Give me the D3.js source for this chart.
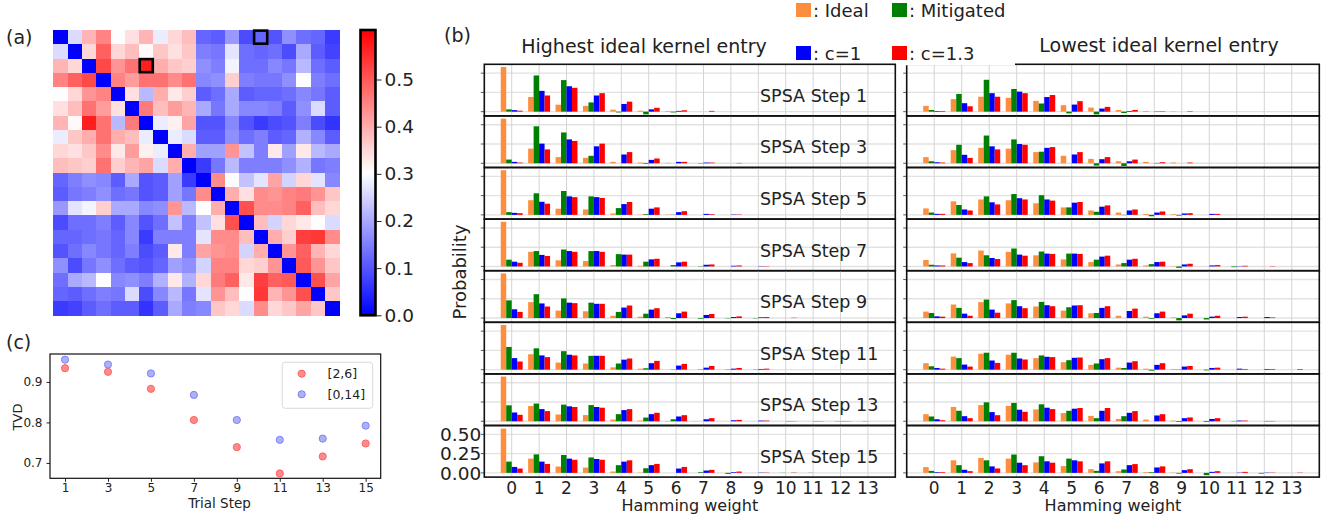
<!DOCTYPE html>
<html>
<head>
<meta charset="utf-8">
<script src="https://cdnjs.cloudflare.com/ajax/libs/d3/7.8.5/d3.min.js"></script>
<style>
body { margin: 0; background: #fff; }
svg { font-family: 'DejaVu Sans', sans-serif; }
</style>
</head>
<body>
<svg id="fig" width="1337" height="523"></svg>
<script>
// ---------- data ----------
// (a) kernel matrix, 20 x 20
var kernel = [
    [0, .26, .39, .45, .30, .34, .39, .28, .35, .38, .12, .11, .18, .09, .12, .10, .17, .13, .12, .07],
    [.26, 0, .35, .49, .35, .38, .31, .37, .34, .37, .15, .14, .27, .13, .12, .13, .09, .20, .11, .08],
    [.39, .35, 0, .52, .43, .47, .57, .40, .37, .36, .17, .15, .29, .13, .13, .16, .14, .22, .13, .11],
    [.45, .49, .52, 0, .45, .42, .47, .47, .44, .47, .16, .17, .36, .15, .14, .14, .17, .30, .15, .13],
    [.30, .35, .43, .45, 0, .34, .22, .40, .33, .36, .11, .13, .20, .11, .12, .12, .13, .16, .14, .11],
    [.34, .38, .47, .42, .34, 0, .46, .38, .42, .39, .20, .14, .20, .16, .16, .15, .11, .17, .26, .11],
    [.39, .31, .57, .47, .22, .46, 0, .28, .32, .41, .10, .10, .16, .10, .07, .09, .10, .15, .09, .06],
    [.28, .37, .40, .47, .40, .38, .28, 0, .28, .26, .11, .11, .17, .13, .15, .11, .12, .21, .16, .11],
    [.35, .34, .37, .44, .33, .42, .32, .28, 0, .40, .19, .19, .43, .23, .15, .33, .19, .33, .22, .20],
    [.38, .37, .36, .47, .36, .39, .41, .26, .40, 0, .07, .14, .22, .15, .15, .15, .17, .21, .14, .15],
    [.12, .15, .17, .16, .11, .20, .10, .11, .19, .07, 0, .44, .30, .23, .27, .41, .25, .35, .27, .16],
    [.11, .14, .15, .17, .13, .14, .10, .11, .19, .14, .44, 0, .40, .34, .44, .43, .45, .46, .43, .37],
    [.18, .27, .29, .36, .20, .20, .16, .17, .43, .22, .30, .40, 0, .51, .44, .44, .45, .49, .38, .35],
    [.09, .13, .13, .15, .11, .16, .10, .13, .23, .15, .23, .34, .51, 0, .38, .25, .35, .33, .30, .26],
    [.12, .12, .13, .14, .12, .16, .07, .15, .15, .15, .27, .44, .44, .38, 0, .40, .36, .53, .54, .44],
    [.10, .13, .16, .14, .12, .15, .09, .11, .33, .15, .41, .43, .44, .25, .40, 0, .43, .49, .39, .35],
    [.17, .09, .14, .17, .13, .11, .10, .12, .19, .17, .25, .45, .45, .35, .36, .43, 0, .50, .43, .37],
    [.13, .20, .22, .30, .16, .17, .15, .21, .33, .21, .35, .46, .49, .33, .53, .49, .50, 0, .51, .41],
    [.12, .11, .13, .15, .14, .26, .09, .16, .22, .14, .27, .43, .38, .30, .54, .39, .43, .51, 0, .37],
    [.07, .08, .11, .13, .11, .11, .06, .11, .20, .15, .16, .37, .35, .26, .44, .35, .37, .41, .37, 0]
];
var highlighted = [[0, 14], [2, 6]];   // [row, col]
var colorbarTicks = [0, 0.1, 0.2, 0.3, 0.4, 0.5];

// (b) probability per Hamming weight
var steps = [1, 3, 5, 7, 9, 11, 13, 15];
var hammingWeights = [0, 1, 2, 3, 4, 5, 6, 7, 8, 9, 10, 11, 12, 13];
var seriesNames = ['Ideal', 'Mitigated', 'c=1', 'c=1.3'];
var probTicks = [0, 0.25, 0.5];

var highIdeal = [
    [0.58, 0.19, 0.09, 0.075, 0.026, 0.013, 0.008, 0, 0, 0, 0, 0, 0, 0],
    [0.58, 0.19, 0.08, 0.07, 0.018, 0.009, 0.005, 0, 0, 0, 0, 0, 0, 0],
    [0.58, 0.19, 0.08, 0.07, 0.018, 0.004, 0.004, 0, 0, 0, 0, 0, 0, 0],
    [0.58, 0.19, 0.08, 0.07, 0.018, 0.009, 0, 0, 0, 0, 0, 0, 0, 0],
    [0.58, 0.207, 0.097, 0.088, 0.03, 0.018, 0.013, 0, 0, 0, 0, 0, 0, 0],
    [0.58, 0.20, 0.092, 0.08, 0.03, 0.013, 0, 0, 0, 0, 0, 0, 0, 0],
    [0.58, 0.198, 0.088, 0.08, 0.022, 0.009, 0.004, 0.002, 0, 0, 0, 0, 0, 0],
    [0.575, 0.185, 0.082, 0.069, 0.017, 0.004, 0, 0, 0, 0, 0, 0, 0, 0]
];
var highMitigated = [
    [0.03, 0.47, 0.41, 0.12, -0.01, -0.035, -0.01, 0, 0, 0, 0, 0, 0, 0],
    [0.048, 0.48, 0.40, 0.097, 0, -0.009, 0, -0.004, 0, 0, 0, 0, 0, 0],
    [0.035, 0.28, 0.31, 0.24, 0.088, 0.009, 0.003, 0, 0, 0, 0, 0, 0, 0],
    [0.088, 0.20, 0.22, 0.20, 0.16, 0.062, 0.018, 0.004, 0, 0, 0, 0, 0, 0],
    [0.23, 0.31, 0.255, 0.20, 0.08, 0.057, -0.013, -0.009, -0.004, -0.004, 0, 0, 0, 0],
    [0.295, 0.277, 0.24, 0.18, 0.08, 0.018, -0.004, -0.004, -0.004, -0.003, 0, 0, 0, 0],
    [0.207, 0.23, 0.216, 0.21, 0.092, 0.048, 0.026, 0, 0, 0, 0, 0, 0.003, 0.003],
    [0.146, 0.24, 0.232, 0.20, 0.10, 0.06, 0, 0.009, -0.013, 0, 0.002, 0.002, 0, 0]
];
var highC1 = [
    [0.02, 0.27, 0.33, 0.21, 0.10, 0.03, 0.01, 0, 0, 0, 0, 0, 0, 0],
    [0.018, 0.255, 0.31, 0.22, 0.114, 0.044, 0.018, 0.009, 0, 0, 0, 0, 0, 0],
    [0.026, 0.17, 0.24, 0.23, 0.14, 0.08, 0.035, 0.013, 0.005, 0, 0, 0, 0, 0],
    [0.062, 0.15, 0.20, 0.20, 0.154, 0.092, 0.053, 0.022, 0.009, 0.004, 0, 0, 0, 0],
    [0.114, 0.19, 0.20, 0.185, 0.136, 0.11, 0.062, 0.04, 0.013, 0.009, 0, 0, 0, 0],
    [0.15, 0.185, 0.194, 0.18, 0.13, 0.084, 0.053, 0.026, 0.013, 0.009, 0, 0, 0, 0],
    [0.114, 0.158, 0.194, 0.185, 0.145, 0.092, 0.062, 0.026, 0.013, 0.009, 0.003, 0.003, 0.003, 0],
    [0.077, 0.146, 0.185, 0.18, 0.146, 0.10, 0.056, 0.03, 0.009, 0.004, 0, 0, 0, 0]
];
var highC13 = [
    [0.013, 0.21, 0.31, 0.24, 0.13, 0.05, 0.018, 0.01, 0, 0, 0, 0, 0, 0],
    [0.009, 0.18, 0.29, 0.255, 0.145, 0.062, 0.018, 0.009, 0.004, 0, 0, 0, 0, 0],
    [0.022, 0.145, 0.23, 0.22, 0.167, 0.097, 0.048, 0.009, 0.005, 0, 0, 0, 0, 0],
    [0.048, 0.136, 0.19, 0.19, 0.154, 0.10, 0.062, 0.026, 0.013, 0.004, 0, 0, 0, 0],
    [0.08, 0.15, 0.194, 0.185, 0.163, 0.128, 0.084, 0.053, 0.022, 0.013, 0.004, 0, 0, 0],
    [0.106, 0.163, 0.185, 0.18, 0.145, 0.114, 0.075, 0.048, 0.022, 0.013, 0, 0, 0, 0],
    [0.084, 0.132, 0.185, 0.176, 0.158, 0.11, 0.079, 0.04, 0.018, 0.009, 0.003, 0.003, 0.003, 0],
    [0.056, 0.116, 0.17, 0.17, 0.163, 0.116, 0.077, 0.039, 0.017, 0.004, 0.004, 0, 0, 0]
];

var lowIdeal = [
    [0.075, 0.163, 0.194, 0.18, 0.14, 0.084, 0.053, 0.022, 0.009, 0.004, 0, 0, 0, 0],
    [0.08, 0.17, 0.20, 0.19, 0.145, 0.097, 0.057, 0.026, 0.018, 0.009, 0, 0, 0, 0],
    [0.084, 0.176, 0.20, 0.19, 0.15, 0.097, 0.057, 0.03, 0.013, 0.009, 0, 0, 0, 0],
    [0.084, 0.17, 0.207, 0.19, 0.145, 0.092, 0.057, 0.026, 0.013, 0.004, 0, 0, 0, 0],
    [0.084, 0.176, 0.207, 0.19, 0.15, 0.097, 0.062, 0.03, 0.018, 0.009, 0, 0, 0, 0],
    [0.084, 0.17, 0.207, 0.194, 0.15, 0.097, 0.062, 0.026, 0.013, 0.009, 0, 0, 0, 0],
    [0.092, 0.185, 0.21, 0.20, 0.154, 0.106, 0.07, 0.03, 0.022, 0.008, 0, 0, 0, 0],
    [0.075, 0.163, 0.194, 0.185, 0.136, 0.088, 0.048, 0.022, 0.009, 0.004, 0, 0, 0, 0]
];
var lowMitigated = [
    [0.022, 0.23, 0.414, 0.295, 0.106, -0.022, -0.035, -0.018, 0, 0, 0, 0, 0, 0],
    [0.026, 0.24, 0.36, 0.31, 0.15, 0, -0.03, -0.035, 0, 0, 0, 0, 0, 0],
    [0.03, 0.128, 0.24, 0.27, 0.255, 0.097, 0.04, -0.004, -0.018, -0.009, 0, 0, 0, 0],
    [0.022, 0.114, 0.145, 0.233, 0.194, 0.167, 0.088, 0.044, 0.03, -0.018, 0, -0.009, 0, 0],
    [0.066, 0.132, 0.24, 0.233, 0.21, 0.14, 0.066, 0, -0.009, -0.03, -0.018, 0, 0, 0],
    [0.044, 0.15, 0.22, 0.22, 0.185, 0.123, 0.08, 0.022, -0.013, 0.004, -0.009, 0, 0, 0],
    [0.062, 0.136, 0.246, 0.238, 0.22, 0.136, 0.04, 0.066, 0, -0.01, -0.01, 0.004, 0, 0],
    [0.026, 0.10, 0.163, 0.238, 0.216, 0.185, 0.026, 0.044, 0.009, -0.009, -0.03, 0, -0.009, 0]
];
var lowC1 = [
    [0.009, 0.11, 0.24, 0.26, 0.19, 0.092, 0.04, 0.009, 0.004, 0, 0, 0, 0, 0],
    [0.013, 0.11, 0.22, 0.25, 0.20, 0.114, 0.053, 0.026, 0.004, 0, 0, 0, 0, 0],
    [0.013, 0.07, 0.163, 0.216, 0.20, 0.158, 0.106, 0.057, 0.03, 0.018, 0.013, 0, 0, 0],
    [0.013, 0.057, 0.11, 0.154, 0.167, 0.167, 0.128, 0.088, 0.057, 0.026, 0.013, 0.004, 0, 0],
    [0.022, 0.057, 0.11, 0.154, 0.167, 0.163, 0.132, 0.092, 0.062, 0.035, 0.018, 0.013, 0.013, 0],
    [0.022, 0.066, 0.119, 0.145, 0.167, 0.154, 0.136, 0.092, 0.062, 0.04, 0.022, 0.013, 0.009, 0],
    [0.026, 0.066, 0.119, 0.15, 0.176, 0.163, 0.136, 0.11, 0.075, 0.04, 0.03, 0.009, 0.004, 0],
    [0.009, 0.04, 0.084, 0.132, 0.15, 0.163, 0.123, 0.10, 0.07, 0.035, 0.013, 0.004, 0.004, 0]
];
var lowC13 = [
    [0.009, 0.07, 0.194, 0.24, 0.216, 0.136, 0.062, 0.022, 0.006, 0.006, 0, 0, 0, 0],
    [0.009, 0.07, 0.18, 0.24, 0.21, 0.145, 0.08, 0.048, 0.013, 0.009, 0, 0, 0, 0],
    [0.013, 0.057, 0.136, 0.20, 0.185, 0.167, 0.123, 0.07, 0.044, 0.022, 0.013, 0, 0, 0],
    [0.013, 0.044, 0.097, 0.14, 0.163, 0.163, 0.14, 0.10, 0.062, 0.035, 0.018, 0.009, 0.004, 0],
    [0.018, 0.03, 0.07, 0.128, 0.154, 0.167, 0.154, 0.123, 0.084, 0.057, 0.03, 0.018, 0.008, 0],
    [0.013, 0.04, 0.088, 0.132, 0.163, 0.158, 0.15, 0.11, 0.084, 0.048, 0.026, 0.009, 0.009, 0.009],
    [0.013, 0.04, 0.079, 0.123, 0.158, 0.172, 0.172, 0.132, 0.092, 0.05, 0.04, 0.009, 0.004, 0],
    [0.009, 0.022, 0.057, 0.10, 0.132, 0.15, 0.15, 0.114, 0.084, 0.048, 0.022, 0.013, 0.004, 0.004]
];

// (c) TVD per trial step
var trialSteps = [1, 3, 5, 7, 9, 11, 13, 15];
var tvd26 = [0.934, 0.925, 0.883, 0.806, 0.739, 0.674, 0.716, 0.748];
var tvd014 = [0.955, 0.943, 0.921, 0.868, 0.806, 0.757, 0.760, 0.792];
var tvdTicks = [0.7, 0.8, 0.9];

// ---------- styles ----------
var seriesColors = ['#fd8e3e', '#008000', '#0000ff', '#ff0000'];
var font = "'DejaVu Sans', sans-serif";

var svg = d3.select('#fig');
var defs = svg.append('defs');

//Panel labels
[['(a)', 6, 44], ['(b)', 444, 42], ['(c)', 6, 349]].forEach(function(p) {
    svg.append('text').attr('x', p[1]).attr('y', p[2])
       .style('font-size', '19px').style('fill', '#222').text(p[0]);
});

// ================= (a) heatmap =================
var hmX = d3.scaleBand().domain(d3.range(kernel.length)).range([53.3, 339.3]);
var hmY = d3.scaleBand().domain(d3.range(kernel.length)).range([30, 315.3]);
var vmax = 0.605;
var bwr = d3.scaleLinear().domain([0, vmax / 2, vmax]).range(['#0000ff', '#ffffff', '#ff0000']);

var cells = [];
kernel.forEach(function(row, r) {
    row.forEach(function(v, c) { cells.push({r: r, c: c, v: v}); });
});

svg.append('g').selectAll('rect')
   .data(cells).enter()
   .append('rect')
   .attr('x', function(d) {return hmX(d.c);})
   .attr('y', function(d) {return hmY(d.r);})
   .attr('width', hmX.bandwidth() + 0.5)
   .attr('height', hmY.bandwidth() + 0.5)
   .attr('shape-rendering', 'crispEdges')
   .style('fill', function(d) {return bwr(d.v);});

svg.append('g').selectAll('rect')
   .data(highlighted).enter()
   .append('rect')
   .attr('x', function(d) {return hmX(d[1]) + 0.6;})
   .attr('y', function(d) {return hmY(d[0]) + 0.6;})
   .attr('width', hmX.bandwidth() - 1.2)
   .attr('height', hmY.bandwidth() - 1.2)
   .style('fill', 'none')
   .style('stroke', '#000')
   .style('stroke-width', 2.6);

//Colorbar
var cbY = d3.scaleLinear().domain([0, vmax]).range([315.3, 30]);
var grad = defs.append('linearGradient').attr('id', 'cbgrad')
               .attr('x1', 0).attr('y1', 1).attr('x2', 0).attr('y2', 0);
[0, 0.5, 1].forEach(function(t) {
    grad.append('stop').attr('offset', t).attr('stop-color', bwr(t * vmax));
});
svg.append('rect')
   .attr('x', 360.5).attr('y', cbY(vmax))
   .attr('width', 15).attr('height', cbY(0) - cbY(vmax))
   .style('fill', 'url(#cbgrad)')
   .style('stroke', '#000').style('stroke-width', 2.6);

var cbAxis = svg.append('g')
   .attr('transform', 'translate(376.5,0)')
   .call(d3.axisRight(cbY).tickValues(colorbarTicks).tickFormat(d3.format('.1f')).tickSize(5).tickPadding(3));
cbAxis.select('.domain').remove();
cbAxis.selectAll('text').style('font-family', font).style('font-size', '18.5px').style('fill', '#222');
cbAxis.selectAll('line').style('stroke', '#222');

// ================= (b) bar panels =================
var rowBand = d3.scaleBand().domain(steps).range([64.3, 477.1]);
var barW = 0.2;

function drawColumn(name, data, x0, x1, isLeft) {
    var x = d3.scaleLinear().domain([-1, 14]).range([x0, x1]);
    var col = svg.append('g').attr('class', 'col-' + name);

    steps.forEach(function(step, si) {
        var top = rowBand(step), h = rowBand.bandwidth();
        var y = d3.scaleLinear().domain([-0.055, 0.615]).range([top + h, top]);
        var g = col.append('g');

        var clipId = 'clip-' + name + '-' + si;
        defs.append('clipPath').attr('id', clipId)
            .append('rect').attr('x', x0).attr('y', top).attr('width', x1 - x0).attr('height', h);

        var inner = g.append('g').attr('clip-path', 'url(#' + clipId + ')');

        //Grid
        inner.selectAll('.hgrid').data(probTicks).enter()
             .append('line')
             .attr('x1', x0).attr('x2', x1)
             .attr('y1', function(d) {return y(d);}).attr('y2', function(d) {return y(d);})
             .style('stroke', '#e2e2e2').style('stroke-width', 1.4);
        inner.selectAll('.vgrid').data(hammingWeights).enter()
             .append('line')
             .attr('x1', function(d) {return x(d);}).attr('x2', function(d) {return x(d);})
             .attr('y1', top).attr('y2', top + h)
             .style('stroke', '#d4d4d4').style('stroke-width', 1);

        //Bars
        data.forEach(function(series, s) {
            var vals = series[si];
            inner.selectAll('.bar' + s).data(vals).enter()
                 .append('rect')
                 .attr('x', function(d, i) {return x(hammingWeights[i] + (s - 2) * barW);})
                 .attr('width', x(barW) - x(0))
                 .attr('y', function(d) {return Math.min(y(d), y(0));})
                 .attr('height', function(d) {return Math.abs(y(d) - y(0));})
                 .style('fill', seriesColors[s]);
        });

        //Y ticks
        g.selectAll('.ytick').data(probTicks).enter()
         .append('line')
         .attr('x1', x0 - 3.5).attr('x2', x0)
         .attr('y1', function(d) {return y(d);}).attr('y2', function(d) {return y(d);})
         .style('stroke', '#333').style('stroke-width', 0.8);

        if (isLeft) {
            g.append('text')
             .attr('x', 760).attr('y', top + 37.5)
             .style('font-size', '17.5px').style('fill', '#222')
             .text('SPSA Step ' + step);
        }

        if (isLeft && si === steps.length - 1) {
            g.selectAll('.ylab').data(probTicks).enter()
             .append('text')
             .attr('x', x0 - 3).attr('y', function(d) {return y(d);})
             .attr('dy', '0.36em')
             .attr('text-anchor', 'end')
             .style('font-size', '18.5px').style('fill', '#222')
             .text(d3.format('.2f'));
        }

        //Frame
        g.append('rect')
         .attr('x', x0).attr('y', top).attr('width', x1 - x0).attr('height', h)
         .style('fill', 'none').style('stroke', '#111').style('stroke-width', 1.6);
    });

    //X tick labels
    col.selectAll('.xlab').data(hammingWeights).enter()
       .append('text')
       .attr('x', function(d) {return x(d);}).attr('y', 494.3)
       .attr('text-anchor', 'middle')
       .style('font-size', '17px').style('fill', '#222')
       .text(function(d) {return d;});

    col.append('text')
       .attr('x', (x0 + x1) / 2).attr('y', 511)
       .attr('text-anchor', 'middle')
       .style('font-size', '16px').style('fill', '#222')
       .text('Hamming weight');
}

drawColumn('low', [lowIdeal, lowMitigated, lowC1, lowC13], 906.7, 1319.3, false);

//Legend background (hides part of right frame)
svg.append('rect').attr('x', 790).attr('y', 0).attr('width', 225).attr('height', 65.3).style('fill', '#fff');

drawColumn('high', [highIdeal, highMitigated, highC1, highC13], 484.3, 895.3, true);

//Titles
svg.append('text').attr('x', 644).attr('y', 52.5).attr('text-anchor', 'middle')
   .style('font-size', '19px').style('fill', '#222').text('Highest ideal kernel entry');
svg.append('text').attr('x', 1159).attr('y', 51.7).attr('text-anchor', 'middle')
   .style('font-size', '19px').style('fill', '#222').text('Lowest ideal kernel entry');

svg.append('text')
   .attr('transform', 'translate(466,272) rotate(-90)')
   .attr('text-anchor', 'middle')
   .style('font-size', '18px').style('fill', '#222')
   .text('Probability');

//Legend (2 columns)
var legPos = [[796, 3], [892, 3], [796, 46], [892, 46]];
var leg = svg.append('g').selectAll('g')
   .data(seriesNames).enter()
   .append('g')
   .attr('transform', function(d, i) {return 'translate(' + legPos[i][0] + ',' + legPos[i][1] + ')';});
leg.append('rect').attr('width', 15).attr('height', 14)
   .style('fill', function(d, i) {return seriesColors[i];});
leg.append('text').attr('x', 17).attr('y', 13.5)
   .style('font-size', '18px').style('fill', '#222')
   .text(function(d) {return ': ' + d;});

// ================= (c) TVD scatter =================
var cx = d3.scaleLinear().domain([0.3, 15.7]).range([50, 380.7]);
var cy = d3.scaleLinear().domain([0.662, 0.969]).range([478.3, 354]);

var xAx = svg.append('g').attr('transform', 'translate(0,478.3)')
   .call(d3.axisBottom(cx).tickValues(trialSteps).tickSize(3.5).tickPadding(1.5));
var yAx = svg.append('g').attr('transform', 'translate(50,0)')
   .call(d3.axisLeft(cy).tickValues(tvdTicks).tickFormat(d3.format('.1f')).tickSize(3.5).tickPadding(4));
[xAx, yAx].forEach(function(a) {
    a.select('.domain').remove();
    a.selectAll('text').style('font-family', font).style('font-size', '12px').style('fill', '#222');
    a.selectAll('line').style('stroke', '#222');
});

svg.append('rect').attr('x', 50).attr('y', 354).attr('width', 330.7).attr('height', 124.3)
   .style('fill', 'none').style('stroke', '#111').style('stroke-width', 1.2);

var scatterSets = [
    {name: '[2,6]', vals: tvd26, fill: '#ff8a8a', stroke: '#ff5a5a'},
    {name: '[0,14]', vals: tvd014, fill: '#aab2f2', stroke: '#7878ff'}
];
scatterSets.forEach(function(set) {
    svg.append('g').selectAll('circle')
       .data(set.vals).enter()
       .append('circle')
       .attr('cx', function(d, i) {return cx(trialSteps[i]);})
       .attr('cy', function(d) {return cy(d);})
       .attr('r', 3.6)
       .style('fill', set.fill).style('stroke', set.stroke).style('stroke-width', 0.9);
});

//Legend (c)
svg.append('rect').attr('x', 282.3).attr('y', 362.3).attr('width', 90.4).attr('height', 46)
   .attr('rx', 3).style('fill', '#fff').style('stroke', '#d0d0d0').style('stroke-width', 0.8);
var cLeg = svg.append('g').selectAll('g')
   .data(scatterSets).enter()
   .append('g')
   .attr('transform', function(d, i) {return 'translate(0,' + (373.7 + i * 20.6) + ')';});
cLeg.append('circle').attr('cx', 301.7).attr('r', 3.6)
    .style('fill', function(d) {return d.fill;}).style('stroke', function(d) {return d.stroke;}).style('stroke-width', 0.9);
cLeg.append('text').attr('x', 327.5).attr('dy', '0.36em')
    .style('font-size', '12.5px').style('fill', '#222')
    .text(function(d) {return d.name;});

svg.append('text').attr('x', 219.5).attr('y', 507.5).attr('text-anchor', 'middle')
   .style('font-size', '13.5px').style('fill', '#222').text('Trial Step');
svg.append('text').attr('transform', 'translate(21.5,417) rotate(-90)').attr('text-anchor', 'middle')
   .style('font-size', '13px').style('fill', '#222').text('TVD');
</script>
</body>
</html>
